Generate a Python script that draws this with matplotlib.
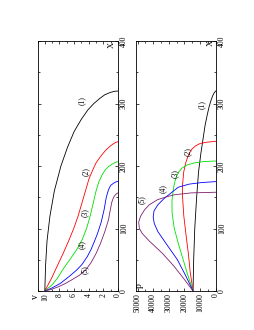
import matplotlib
matplotlib.use("Agg")
import matplotlib.pyplot as plt
from matplotlib.ticker import MultipleLocator

plt.rcParams['font.family'] = ['Liberation Serif', 'DejaVu Serif']
plt.rcParams['font.size'] = 5.5

# ---- data: top panel (v vs X) ----
x1_v = [0, 40, 80, 120, 160, 200, 230, 255, 275, 290, 300, 308, 314, 317.5, 319.5, 320]
v1 = [10, 9.9, 9.7, 9.3, 8.7, 7.8, 6.9, 6.0, 5.0, 4.1, 3.3, 2.5, 1.8, 1.1, 0.5, 0]
x2_v = [0, 20, 40, 60, 80, 100, 120, 140, 160, 180, 195, 205, 215, 225, 231, 235, 237.5, 239]
v2 = [10, 9.1, 8.3, 7.5, 6.75, 6.05, 5.45, 4.95, 4.45, 3.95, 3.4, 3.0, 2.4, 1.7, 1.15, 0.7, 0.35, 0]
x3_v = [0, 10, 20, 35, 50, 65, 82, 100, 120, 140, 160, 175, 185, 193, 199, 203, 205.5, 207]
v3 = [10, 9.0, 8.3, 7.5, 6.6, 5.7, 4.9, 4.3, 3.8, 3.4, 3.0, 2.6, 2.2, 1.8, 1.3, 0.8, 0.4, 0]
x4_v = [0, 5, 12, 23, 33, 42, 55, 66, 80, 92, 110, 130, 150, 162, 169, 172.5, 174.5, 175.5]
v4 = [10, 9.0, 7.9, 6.7, 5.7, 4.95, 4.2, 3.7, 3.2, 2.8, 2.3, 1.9, 1.6, 1.3, 1.0, 0.6, 0.3, 0]
x5_v = [0, 3, 7, 12, 18, 25, 34, 45, 60, 76, 95, 114, 130, 142, 150, 154, 156, 157]
v5 = [10, 9.0, 8.1, 7.2, 6.3, 5.3, 4.4, 3.7, 3.0, 2.4, 1.8, 1.3, 1.05, 0.85, 0.6, 0.35, 0.15, 0]

# ---- data: bottom panel (p vs X) ----
x1_p = [0, 50, 100, 150, 190, 220, 245, 265, 282, 295, 305, 312, 317, 320]
p1 = [14500, 14100, 13400, 12200, 11000, 9500, 8000, 6800, 5400, 4200, 3000, 2000, 1000, 0]
x2_p = [0, 30, 60, 90, 120, 150, 170, 190, 205, 217, 226, 232, 236, 238, 239.5]
p2 = [14500, 16300, 17500, 19000, 20400, 21200, 21200, 20500, 19200, 17500, 15600, 13000, 10000, 6000, 0]
x3_p = [0, 25, 50, 75, 100, 125, 145, 165, 180, 190, 197, 202, 205, 207, 208]
p3 = [14500, 17800, 20800, 23800, 26500, 27900, 28000, 27000, 25600, 23800, 21500, 18000, 13500, 8000, 0]
x4_p = [0, 25, 50, 75, 95, 108, 118, 128, 138, 148, 158, 166, 171, 173.5, 175]
p4 = [14500, 19300, 24500, 31500, 37000, 39300, 40000, 39500, 37000, 33000, 28000, 24000, 17000, 9000, 0]
x5_p = [0, 20, 40, 60, 80, 92, 100, 110, 120, 130, 138, 146, 150, 154, 157, 158]
p5 = [14500, 20500, 26800, 34000, 42500, 47000, 48800, 49300, 48000, 45500, 42500, 37300, 32500, 26400, 15600, 0]

curve_labels = ['(1)', '(2)', '(3)', '(4)', '(5)']
colors = ['black', '#ff0000', '#00e000', '#0000ff', '#7f1f6f']

top_series = [(x1_v, v1), (x2_v, v2), (x3_v, v3), (x4_v, v4), (x5_v, v5)]
bot_series = [(x1_p, p1), (x2_p, p2), (x3_p, p3), (x4_p, p4), (x5_p, p5)]
top_label_pos = [(4.9, 305), (4.4, 191), (4.6, 125), (4.9, 74), (4.6, 34)]
bot_label_pos = [(8700, 298), (17800, 223), (26400, 188), (34000, 164), (47000, 146)]

fig = plt.figure(figsize=(2.55, 3.30), dpi=100)
ax1 = fig.add_axes([37.5 / 255, 39 / 330, 80.5 / 255, 250 / 330])
ax2 = fig.add_axes([136 / 255, 39 / 330, 79.7 / 255, 250 / 330])


def style(ax, xmax, xmaj, xmin):
    ax.set_ylim(0, 400)
    ax.set_xlim(xmax, 0)
    ax.yaxis.set_major_locator(MultipleLocator(100))
    ax.yaxis.set_minor_locator(MultipleLocator(50))
    ax.xaxis.set_major_locator(MultipleLocator(xmaj))
    ax.xaxis.set_minor_locator(MultipleLocator(xmin))
    ax.tick_params(which='both', direction='in', top=True, bottom=True,
                   left=True, right=True, labelleft=False, labelright=True,
                   width=0.5, pad=1.5, labelsize=5.5)
    ax.tick_params(which='major', length=2.5)
    ax.tick_params(which='minor', length=1.3)
    for lab in ax.get_xticklabels():
        lab.set_rotation(90)
    for lab in ax.get_yticklabels():
        lab.set_rotation(90)
        lab.set_va('center')
    for s in ax.spines.values():
        s.set_linewidth(0.6)


style(ax1, 11, 2, 1)
style(ax2, 51000, 10000, 5000)

for (xs, ys), c in zip(top_series, colors):
    ax1.plot(ys, xs, color=c, lw=0.6)
for (xs, ys), c in zip(bot_series, colors):
    ax2.plot(ys, xs, color=c, lw=0.6)

for (vx, xx), t in zip(top_label_pos, curve_labels):
    ax1.text(vx, xx, t, rotation=90, ha='center', va='center', fontsize=5.5)
for (px, xx), t in zip(bot_label_pos, curve_labels):
    ax2.text(px, xx, t, rotation=90, ha='center', va='center', fontsize=5.5)

ax1.text(0.8, 393, 'X', rotation=90, ha='center', va='center', fontsize=6)
ax2.text(3000, 396, 'X', rotation=90, ha='center', va='center', fontsize=6)
ax2.text(49000, 8, 'p', rotation=90, ha='center', va='center', fontsize=7)
ax1.text(11.3, -5, 'v', rotation=90, ha='center', va='top', fontsize=7)

fig.savefig('out.png', dpi=100)
